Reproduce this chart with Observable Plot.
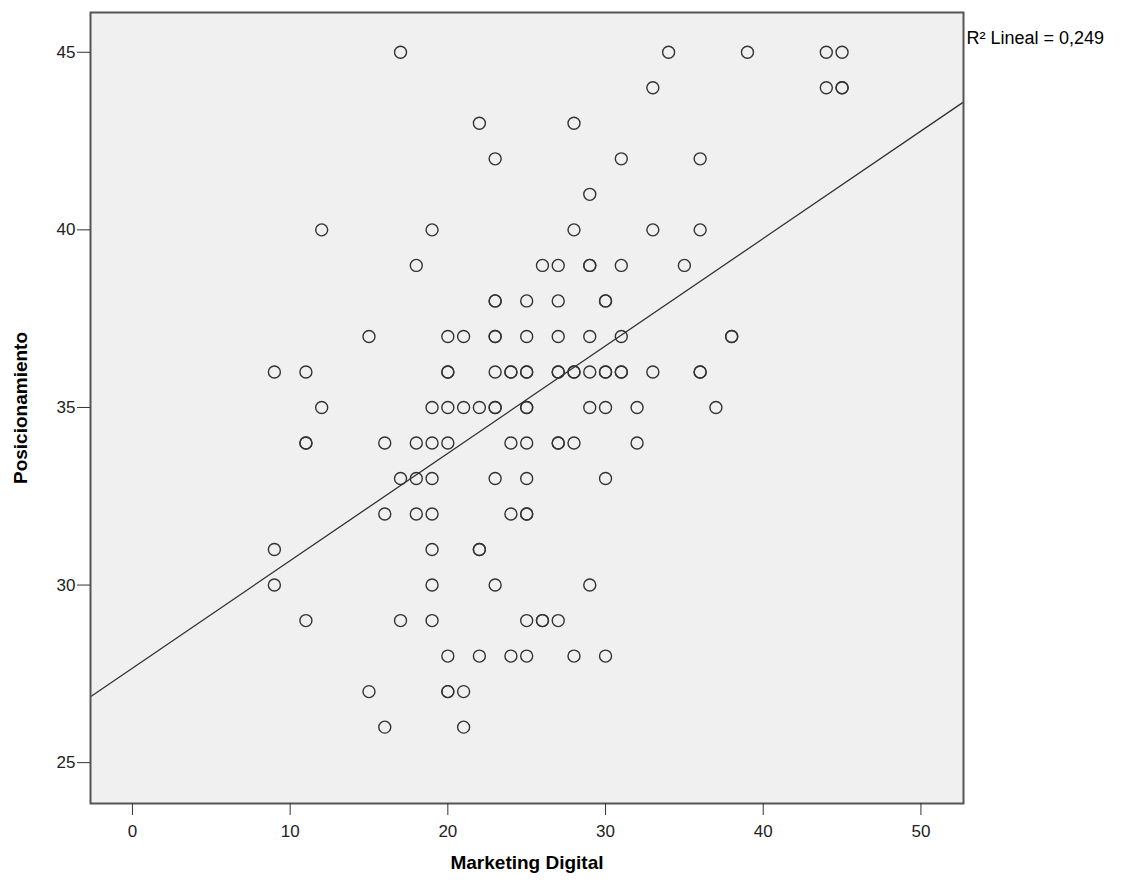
<!DOCTYPE html>
<html>
<head>
<meta charset="utf-8">
<script src="https://cdn.jsdelivr.net/npm/d3@7"></script>
<script src="https://cdn.jsdelivr.net/npm/@observablehq/plot@0.6"></script>
<style>
  html, body { margin: 0; padding: 0; background: #fff; }
  #chart svg { display: block; }
</style>
</head>
<body>
<div id="chart"></div>
<script>
// Values of "Marketing Digital" (x) grouped by "Posicionamiento" (y) level
const posicionamientoLevels = [45, 44, 43, 42, 41, 40, 39, 38, 37, 36, 35, 34, 33, 32, 31, 30, 29, 28, 27, 26];
const marketingByLevel = [
  [17, 34, 39, 44, 45],
  [33, 44, 45, 45],
  [22, 28],
  [23, 31, 36],
  [29],
  [12, 19, 28, 33, 36],
  [18, 26, 27, 29, 29, 31, 35],
  [23, 23, 25, 27, 30, 30],
  [15, 20, 21, 23, 23, 25, 27, 29, 31, 38, 38],
  [9, 11, 20, 20, 23, 24, 24, 25, 25, 27, 27, 28, 28, 29, 30, 30, 31, 31, 33, 36, 36],
  [12, 19, 20, 21, 22, 23, 23, 25, 25, 29, 30, 32, 37],
  [11, 11, 16, 18, 19, 20, 24, 25, 27, 27, 28, 32],
  [17, 18, 19, 23, 25, 30],
  [16, 18, 19, 24, 25, 25],
  [9, 19, 22, 22],
  [9, 19, 23, 29],
  [11, 17, 19, 25, 26, 26, 27],
  [20, 22, 24, 25, 28, 30],
  [15, 20, 20, 21],
  [16, 21]
];
const xTicks = [0, 10, 20, 30, 40, 50];
const yTicks = [25, 30, 35, 40, 45];
const xDomain = [-2.66, 52.7];
const yDomain = [23.85, 46.12];
const r2Label = "R\u00B2 Lineal = 0,249";
const xTitle = "Marketing Digital";
const yTitle = "Posicionamiento";

// Build the table
const points = [];
posicionamientoLevels.forEach((y, i) => marketingByLevel[i].forEach(x => points.push({x, y})));

// Least-squares fit computed from the data
const mx = d3.mean(points, d => d.x), my = d3.mean(points, d => d.y);
const slope = d3.sum(points, d => (d.x - mx) * (d.y - my)) / d3.sum(points, d => (d.x - mx) ** 2);
const intercept = my - slope * mx;
const fitLine = xDomain.map(x => ({x, y: intercept + slope * x}));

const chart = Plot.plot({
  width: 1126,
  height: 886,
  marginLeft: 90,
  marginRight: 163,
  marginTop: 12,
  marginBottom: 83,
  style: {fontFamily: "Arial, 'Liberation Sans', sans-serif", fontSize: "17px", color: "#222", background: "#fff"},
  x: {domain: xDomain},
  y: {domain: yDomain},
  marks: [
    Plot.frame({fill: "#f0f0f0"}),
    Plot.line(fitLine, {x: "x", y: "y", stroke: "#333", strokeWidth: 1.3, clip: true}),
    Plot.dot(points, {x: "x", y: "y", r: 6, stroke: "#333", strokeWidth: 1.4, fill: "none"}),
    Plot.frame({stroke: "#555", strokeWidth: 2}),
    Plot.axisX({ticks: xTicks, tickSize: 12, tickPadding: 9, label: null, stroke: "#333", fill: "#222", fontSize: 17}),
    Plot.axisY({ticks: yTicks, tickSize: 13, tickPadding: 2, label: null, stroke: "#333", fill: "#222", fontSize: 17}),
    Plot.text([xTitle], {text: d => d, frameAnchor: "bottom", dy: 65, fontSize: 19, fontWeight: "bold", fill: "#000"}),
    Plot.text([yTitle], {text: d => d, frameAnchor: "left", dx: -70, rotate: -90, textAnchor: "middle", fontSize: 19, fontWeight: "bold", fill: "#000"}),
    Plot.text([r2Label], {text: d => d, frameAnchor: "top-right", dx: 3, dy: 19, textAnchor: "start", fontSize: 18, fill: "#000"})
  ]
});
document.getElementById("chart").appendChild(chart);
</script>
</body>
</html>
